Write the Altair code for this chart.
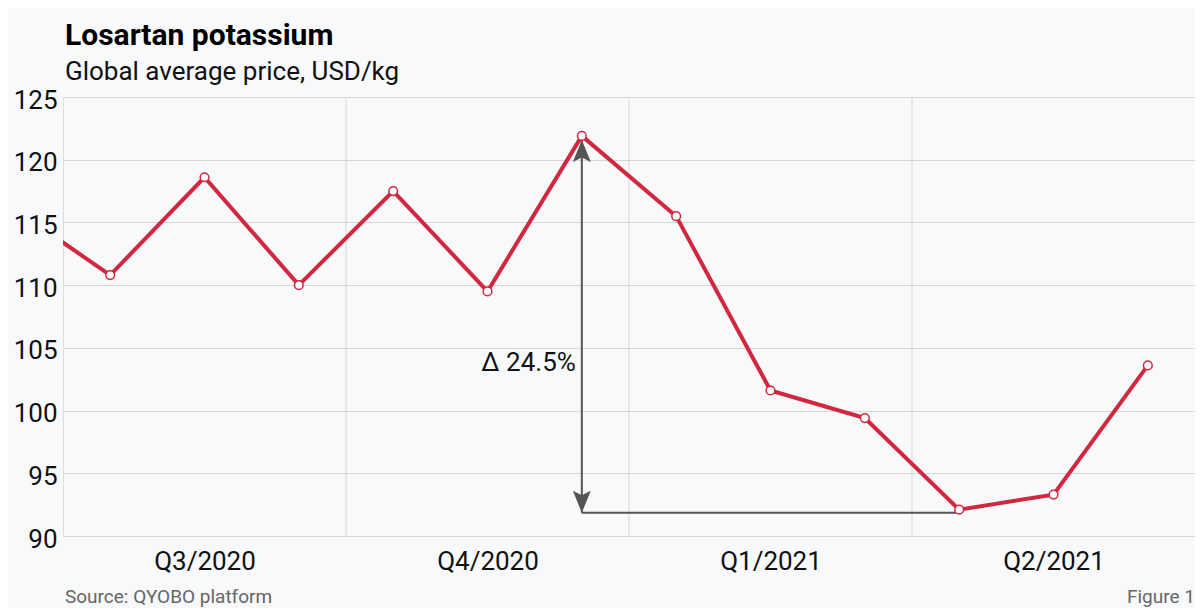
import altair as alt
import pandas as pd

# ---- data ----
title_text = "Losartan potassium"
subtitle_text = "Global average price, USD/kg"
source_text = "Source: QYOBO platform"
figure_text = "Figure 1"

months = ["Jun 2020", "Jul 2020", "Aug 2020", "Sep 2020", "Oct 2020", "Nov 2020",
          "Dec 2020", "Jan 2021", "Feb 2021", "Mar 2021", "Apr 2021", "May 2021", "Jun 2021"]
prices = [116.0, 110.8, 118.6, 110.0, 117.5, 109.5, 121.9, 115.5, 101.6, 99.4, 92.1, 93.3, 103.6]

quarters = ["Q3/2020", "Q4/2020", "Q1/2021", "Q2/2021"]
quarter_centers = [1.5, 4.5, 7.5, 10.5]
quarter_bounds = [3, 6, 9]
y_ticks = [90, 95, 100, 105, 110, 115, 120, 125]

# annotation: drop from Dec 2020 peak to Apr 2021 low
arrow_x = [5.5]
arrow_top = [121.9]
arrow_bottom = [91.85]
arrow_end_x = [9.5]
delta_label = ["Δ 24.5%"]
delta_label_y = [103.8]

# ---- tables ----
df = pd.DataFrame({"month": months,
                   "pos": [i - 0.5 for i in range(len(months))],
                   "price": prices})
bounds_df = pd.DataFrame({"b": quarter_bounds})
arrow_df = pd.DataFrame({"x": arrow_x, "top": arrow_top, "bottom": arrow_bottom,
                         "x2": arrow_end_x, "label": delta_label, "ly": delta_label_y})

W, H = 1132, 439
RED = "#d1283f"
GRID = "#d6d6d6"
ARROW = "#555555"

xs = alt.Scale(domain=[0, 12], nice=False, zero=False)
ys = alt.Scale(domain=[90, 125], nice=False, zero=False)

label_list = "[" + ",".join("'" + q + "'" for q in quarters) + "]"

x_axis = alt.Axis(values=quarter_centers, labelExpr=label_list + "[floor(datum.value / 3)]",
                  grid=False, ticks=False, domain=False, labelFontSize=26,
                  labelPadding=12, title=None, labelColor="#111111")
y_axis = alt.Axis(values=y_ticks, grid=True, gridColor=GRID, gridWidth=1, ticks=False,
                  domain=False, labelFontSize=26, labelPadding=6, labelOffset=3,
                  title=None, labelColor="#111111")

vgrid = alt.Chart(bounds_df).mark_rule(color=GRID, strokeWidth=1).encode(
    x=alt.X("b:Q", scale=xs, axis=x_axis))

line = alt.Chart(df).mark_line(color=RED, strokeWidth=4, clip=True).encode(
    x=alt.X("pos:Q", scale=xs, axis=x_axis),
    y=alt.Y("price:Q", scale=ys, axis=y_axis))

points = alt.Chart(df).transform_filter("datum.pos > 0").mark_point(
    shape="circle", filled=True, fill="white", stroke=RED, strokeWidth=1.5,
    size=75, opacity=1).encode(x=alt.X("pos:Q", scale=xs), y=alt.Y("price:Q", scale=ys))

arrow_base = alt.Chart(arrow_df)
v_rule = arrow_base.mark_rule(color=ARROW, strokeWidth=2).encode(
    x=alt.X("x:Q", scale=xs), y=alt.Y("top:Q", scale=ys), y2="bottom:Q")
h_rule = arrow_base.mark_rule(color=ARROW, strokeWidth=2).encode(
    x=alt.X("x:Q", scale=xs), x2="x2:Q", y=alt.Y("bottom:Q", scale=ys))
head_up = arrow_base.mark_point(
    shape="M0,-1.2L0.9,1L0,0.55L-0.9,1Z", filled=True, color=ARROW, size=400,
    opacity=1, yOffset=16).encode(x=alt.X("x:Q", scale=xs), y=alt.Y("top:Q", scale=ys))
head_down = arrow_base.mark_point(
    shape="M0,1.2L0.9,-1L0,-0.55L-0.9,-1Z", filled=True, color=ARROW, size=400,
    opacity=1, yOffset=-12).encode(x=alt.X("x:Q", scale=xs), y=alt.Y("bottom:Q", scale=ys))
delta = arrow_base.mark_text(align="right", baseline="middle", dx=-6, fontSize=26,
                             color="#111111").encode(
    x=alt.X("x:Q", scale=xs), y=alt.Y("ly:Q", scale=ys), text="label:N")

title = alt.Chart(pd.DataFrame({"t": [title_text]})).mark_text(
    align="left", baseline="alphabetic", fontSize=30, fontWeight="bold",
    color="#000000").encode(x=alt.value(2), y=alt.value(-52), text="t:N")
subtitle = alt.Chart(pd.DataFrame({"t": [subtitle_text]})).mark_text(
    align="left", baseline="alphabetic", fontSize=26,
    color="#111111").encode(x=alt.value(2), y=alt.value(-17), text="t:N")
source = alt.Chart(pd.DataFrame({"t": [source_text]})).mark_text(
    align="left", baseline="alphabetic", fontSize=19,
    color="#666666").encode(x=alt.value(2), y=alt.value(H + 67), text="t:N")
figure = alt.Chart(pd.DataFrame({"t": [figure_text]})).mark_text(
    align="right", baseline="alphabetic", fontSize=19,
    color="#666666").encode(x=alt.value(W), y=alt.value(H + 67), text="t:N")

chart = alt.layer(
    vgrid, h_rule, v_rule, line, head_up, head_down, points, delta,
    title, subtitle, source, figure
).properties(
    width=W, height=H,
    padding={"left": 55, "top": 89, "right": 0, "bottom": 72},
    autosize=alt.AutoSizeParams(type="none"),
    background="#f8f9fb",
).configure_view(
    stroke="#c8c8c8", strokeWidth=2, fill="#f8f9fb"
).configure(font="Roboto")

chart.save("out.html", embed_options={"renderer": "svg", "actions": False})
